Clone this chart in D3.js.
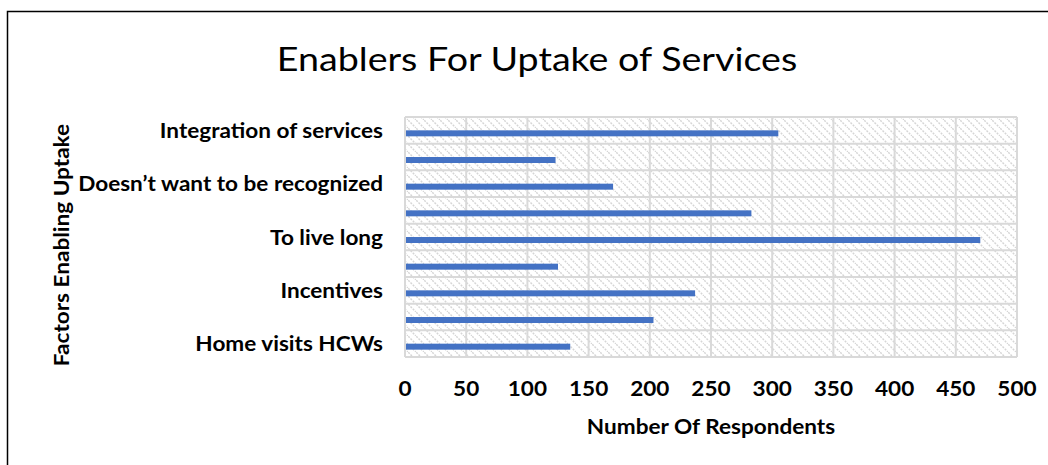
<!DOCTYPE html>
<html><head><meta charset="utf-8">
<script src="https://cdn.jsdelivr.net/npm/d3@7"></script>
<style>body{margin:0;background:#fff}svg{display:block}</style>
</head><body>
<script>
// Data (top to bottom)
const categories = ["Integration of services","Category 2","Doesn\u2019t want to be recognized","Category 4","To live long ","Category 6","Incentives","Category 8","Home visits HCWs"];
const shownLabels = ["Integration of services","","Doesn\u2019t want to be recognized","","To live long ","","Incentives","","Home visits HCWs"];
const values = [305,123,170,283,470,125,237,203,135];
const xTicks = [0,50,100,150,200,250,300,350,400,450,500];
const titleText = "Enablers For Uptake of Services";
const xTitle = "Number Of Respondents";
const yTitle = "Factors Enabling Uptake";

const W=1048,H=465;
const svg=d3.select("body").append("svg").attr("width",W).attr("height",H);
const font="Lato, 'Open Sans', sans-serif";
const SX=1.075; // horizontal stretch of bold labels
const TSX=1.14; // horizontal stretch of title

// outer border
svg.append("rect").attr("x",7.5).attr("y",11.5).attr("width",W+10).attr("height",H+10)
  .attr("fill","none").attr("stroke","#000").attr("stroke-width",1.5);

const m={l:405,r:1017,t:117,b:357};
const x=d3.scaleLinear().domain([0,500]).range([m.l,m.r]);
const y=d3.scaleBand().domain(d3.range(categories.length)).range([m.t,m.b]);

// hatch pattern
const defs=svg.append("defs");
const pat=defs.append("pattern").attr("id","hatch").attr("patternUnits","userSpaceOnUse")
  .attr("width",8).attr("height",8);
pat.append("path").attr("d","M-2,-2L10,10M-2,6L2,10M6,-2L10,2")
  .attr("stroke","#d6d6d6").attr("stroke-width",1.5).attr("stroke-dasharray","2,1.2");
svg.append("rect").attr("x",m.l).attr("y",m.t).attr("width",m.r-m.l).attr("height",m.b-m.t)
  .attr("fill","url(#hatch)");

// grid
const g=svg.append("g");
g.selectAll("line.v").data(xTicks).join("line").attr("class","v")
  .attr("x1",d=>x(d)).attr("x2",d=>x(d)).attr("y1",m.t).attr("y2",m.b)
  .attr("stroke","#d9d9d9").attr("stroke-width",2);
const hb=d3.range(categories.length+1).map(i=>m.t+i*y.step());
g.selectAll("line.h").data(hb).join("line").attr("class","h")
  .attr("x1",m.l).attr("x2",m.r).attr("y1",d=>d).attr("y2",d=>d)
  .attr("stroke","#d9d9d9").attr("stroke-width",2);

// bars
const bw=6;
svg.selectAll("rect.bar").data(values).join("rect").attr("class","bar")
  .attr("x",x(0)+1).attr("y",(d,i)=>y(i)+y.bandwidth()/2+3-bw/2)
  .attr("width",d=>x(d)-x(0)-1).attr("height",bw).attr("fill","#4472c4");

function bold(sel){return sel.attr("font-family",font).attr("font-weight","bold").attr("font-size",21).attr("fill","#000");}

// y labels
bold(svg.selectAll("text.yl").data(shownLabels).join("text").attr("class","yl")
  .attr("transform",(d,i)=>`translate(383,${y(i)+y.bandwidth()/2+7.5}) scale(${SX},1)`)
  .attr("text-anchor","end"))
  .text(d=>d);

// x tick labels
bold(svg.selectAll("text.xt").data(xTicks).join("text").attr("class","xt")
  .attr("transform",d=>`translate(${x(d)},396) scale(${SX},1)`).attr("text-anchor","middle"))
  .text(d=>d);

// axis titles
bold(svg.append("text").attr("transform",`translate(711,434) scale(${SX},1)`).attr("text-anchor","middle")).text(xTitle);
bold(svg.append("text").attr("transform",`translate(69,245) rotate(-90) scale(${SX},1)`).attr("text-anchor","middle")).text(yTitle);

// title
svg.append("text").attr("transform",`translate(537,71) scale(${TSX},1)`).attr("text-anchor","middle")
  .attr("font-family",font).attr("font-size",33).attr("fill","#000").text(titleText);
</script>
</body></html>
